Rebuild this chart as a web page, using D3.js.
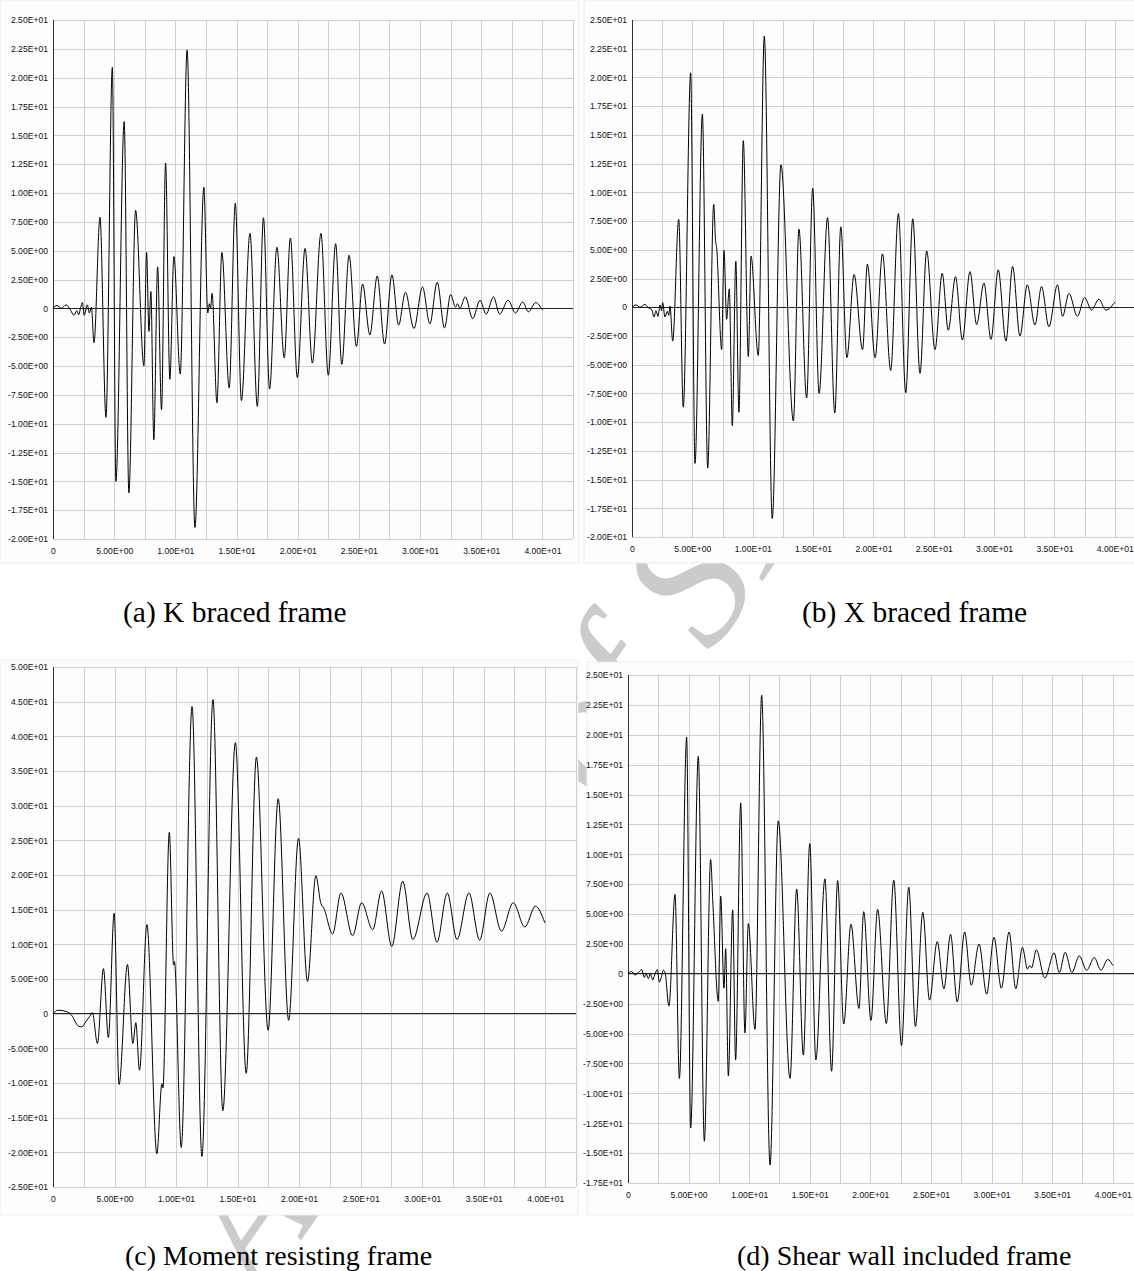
<!DOCTYPE html>
<html>
<head>
<meta charset="utf-8">
<script src="https://cdn.jsdelivr.net/npm/d3@7"></script>
<style>
  body { margin: 0; background: #fff; }
  svg { display: block; }
</style>
</head>
<body>
<svg id="fig" width="1134" height="1271"></svg>
<script>
// response histories as [time (s), value] at each turning point
const kBraced = [
  [0,0],[0.32,0.25],[0.68,0],[1.07,0.3],[1.4,-0.1],[1.72,-0.6],[1.94,-0.2],[2.1,-0.55],[2.26,0.05],[2.4,0.5],
  [2.55,-0.6],[2.8,0.3],[2.97,-0.4],[3.14,0.1],[3.35,-2.98],[3.84,7.9],[4.33,-9.45],[4.85,20.9],[5.14,-15.0],
  [5.82,16.2],[6.2,-16.0],[6.75,8.5],[7.43,-5.0],[7.65,4.85],[7.84,-2.0],[8.0,1.45],[8.24,-11.4],[8.55,3.6],
  [8.87,-8.8],[9.2,12.6],[9.55,-6.15],[9.88,4.5],[10.4,-5.7],[10.96,22.4],[11.6,-19.0],[12.33,10.5],[12.65,-0.4],
  [12.78,0.4],[12.88,0.0],[13.0,1.3],[13.4,-8.2],[13.8,4.85],[14.4,-6.9],[14.9,9.1],[15.4,-8.0],[16.1,6.5],
  [16.7,-8.5],[17.2,7.85],[17.7,-7.0],[18.3,5.3],[18.9,-4.3],[19.4,6.1],[19.97,-6.0],[20.6,5.2],[21.2,-4.75],
  [21.9,6.5],[22.5,-5.8],[23.1,5.6],[23.6,-4.85],[24.2,4.6],[24.8,-3.3],[25.3,2.1],[25.9,-2.3],[26.5,2.8],
  [27.1,-3.1],[27.7,2.9],[28.25,-1.45],[28.8,1.4],[29.5,-1.75],[30.2,1.85],[30.8,-1.35],[31.4,2.25],[32.0,-1.7],
  [32.5,1.2],[32.9,0.1],[33.06,0.4],[33.25,0.0],[33.7,1.0],[34.3,-0.9],[34.9,0.7],[35.4,-0.5],[36.0,1.0],
  [36.5,-0.5],[37.2,0.7],[37.8,-0.4],[38.4,0.55],[38.85,-0.3],[39.45,0.5],[40.0,-0.15]
];

const xBraced = [
  [0,0],[0.33,0.2],[0.66,0],[1.07,0.25],[1.35,-0.05],[1.63,-0.2],[1.82,-0.85],[1.99,-0.3],[2.15,-0.8],[2.32,0.2],
  [2.45,-0.3],[2.54,0.4],[2.73,-0.85],[2.93,-0.35],[3.05,-0.7],[3.15,0.1],[3.37,-2.95],[3.87,7.65],[4.25,-8.7],
  [4.86,20.4],[5.22,-13.6],[5.83,16.8],[6.27,-14.0],[6.77,8.95],[6.93,5.7],[7.0,5.3],[7.43,-3.7],[7.62,4.95],
  [7.84,-1.05],[8.06,1.6],[8.31,-10.3],[8.6,4.0],[8.86,-9.15],[9.22,14.5],[9.64,-4.3],[9.86,4.45],[10.46,-4.2],
  [10.96,23.6],[11.62,-18.4],[12.34,12.4],[13.37,-9.9],[13.83,6.8],[14.47,-7.9],[14.97,10.35],[15.5,-7.5],
  [16.2,7.8],[16.8,-9.2],[17.3,7.0],[17.8,-4.4],[18.4,2.85],[19.1,-3.7],[19.5,3.75],[20.14,-4.4],[20.75,4.65],
  [21.43,-5.5],[22.07,8.15],[22.68,-7.45],[23.26,7.7],[23.86,-5.75],[24.41,4.9],[25.1,-3.7],[25.7,2.95],
  [26.2,-2.0],[26.8,2.65],[27.37,-2.85],[28.0,3.1],[28.55,-1.5],[29.16,2.1],[29.74,-2.8],[30.34,3.25],
  [30.98,-2.95],[31.53,3.55],[32.14,-2.5],[32.75,1.95],[33.38,-1.55],[33.93,1.8],[34.54,-1.7],[35.25,1.95],
  [35.67,-0.8],[36.2,1.2],[36.9,-0.8],[37.5,0.85],[38.07,-0.25],[38.68,0.7],[39.25,-0.25],[40.0,0.45]
];

const momentFrame = [
  [0,0],[0.4,0.5],[1.1,0.3],[1.5,-0.2],[2.07,-1.8],[2.34,-1.9],[2.7,-1.05],[3.0,-0.35],[3.2,0.15],[3.61,-4.3],
  [4.1,6.5],[4.5,-3.45],[4.97,14.5],[5.37,-10.2],[6.05,7.1],[6.49,-4.3],[6.73,-1.3],[7.03,-8.15],[7.63,12.85],
  [8.44,-20.2],[8.85,-10.1],[8.93,-10.7],[9.45,26.15],[9.8,7.0],[9.87,7.5],[10.42,-19.3],[11.3,44.3],[12.1,-20.6],
  [13.0,45.3],[13.8,-14.0],[14.82,39.1],[15.7,-8.6],[16.53,37.0],[17.48,-2.4],[18.3,31.0],[19.15,-0.95],
  [19.95,25.3],[20.68,4.65],[21.36,19.9],[21.77,15.9],[22.0,15.25],[22.72,11.5],[23.4,17.4],[24.35,11.25],
  [25.08,16.0],[25.98,12.1],[26.7,17.7],[27.53,9.7],[28.42,19.1],[29.24,10.7],[30.4,17.4],[31.2,10.3],
  [32.04,17.4],[32.83,10.7],[33.8,17.4],[34.67,10.6],[35.5,17.4],[36.44,11.9],[37.4,16.0],[38.34,12.5],
  [39.2,15.5],[39.97,13.1]
];

const shearWall = [
  [0,0],[0.3,0.2],[0.58,-0.1],[0.85,0.1],[1.13,0.35],[1.35,-0.3],[1.5,0.0],[1.68,-0.4],[1.85,0],[2.04,-0.5],
  [2.2,-0.1],[2.42,0.35],[2.59,-0.7],[2.75,-0.3],[2.92,0.3],[3.05,0.15],[3.38,-2.7],[3.88,6.65],[4.24,-8.75],
  [4.84,19.8],[5.17,-12.9],[5.8,18.2],[6.3,-14.0],[6.82,9.55],[7.0,6.0],[7.45,-2.3],[7.65,6.5],[7.92,-1.2],
  [8.06,2.1],[8.28,-8.55],[8.64,5.35],[8.88,-7.2],[9.3,14.3],[9.65,-4.95],[9.93,4.2],[10.48,-4.65],[11.03,23.3],
  [11.72,-16.0],[12.4,12.8],[13.37,-8.75],[13.92,7.1],[14.47,-6.8],[15.0,10.9],[15.5,-7.2],[16.25,7.95],
  [16.8,-8.15],[17.3,7.8],[17.8,-4.2],[18.4,4.15],[19.06,-2.9],[19.45,5.2],[20.05,-3.9],[20.6,5.4],[21.32,-4.15],
  [21.93,7.85],[22.57,-6.0],[23.17,7.25],[23.72,-4.4],[24.33,5.15],[24.88,-2.2],[25.52,2.7],[26.07,-1.25],
  [26.62,3.3],[27.17,-2.35],[27.78,3.5],[28.33,-0.95],[28.97,2.5],[29.6,-1.7],[30.2,3.05],[30.81,-1.2],
  [31.45,3.5],[32.0,-1.25],[32.55,2.2],[32.97,0.4],[33.16,0.7],[33.3,0.5],[33.7,2.0],[34.4,-0.35],[35.17,1.75],
  [35.59,0.1],[36.08,1.8],[36.63,0.1],[37.24,1.5],[37.85,0.3],[38.48,1.35],[39.03,0.3],[39.59,1.2],[40.0,0.7]
];

const captions = ["(a) K braced frame", "(b) X braced frame", "(c) Moment resisting frame", "(d) Shear wall included frame"];
const xLabelTicks = [0, 5, 10, 15, 20, 25, 30, 35, 40];
const xGridTicks = d3.range(0, 42.51, 2.5);

// layout of the four panels (pixels)
const panels = [
  { data: kBraced, cap: 0, box: [0, 0, 579, 563], left: 53, right: 573, top: 20, bottom: 539, yMin: -20, yMax: 25, yStep: 2.5, capX: 123, capY: 622, capSize: 29.5 },
  { data: xBraced, cap: 1, box: [584, 0, 560, 563], left: 632, right: 1145, top: 20, bottom: 537, yMin: -20, yMax: 25, yStep: 2.5, capX: 802, capY: 622, capSize: 29.5 },
  { data: momentFrame, cap: 2, box: [0, 660, 578, 555], left: 53, right: 576, top: 667, bottom: 1187, yMin: -25, yMax: 50, yStep: 5, capX: 125, capY: 1265, capSize: 28 },
  { data: shearWall, cap: 3, box: [587, 662, 560, 553], left: 628, right: 1143, top: 675, bottom: 1183, yMin: -17.5, yMax: 25, yStep: 2.5, capX: 737, capY: 1265, capSize: 28 }
];

function sci(v) {
  if (Math.abs(v) < 1e-9) return "0";
  const [m, e] = v.toExponential(2).split("e");
  const n = +e;
  return m + "E" + (n < 0 ? "-" : "+") + String(Math.abs(n)).padStart(2, "0");
}

const svg = d3.select("#fig");

// faint watermark on the page, behind the chart images
svg.append("text")
  .attr("transform", "translate(262,1296) rotate(-55)")
  .text("Archive of SID")
  .style("font-family", "'Liberation Serif', 'Times New Roman', serif")
  .style("font-style", "italic")
  .style("font-size", "180px")
  .style("fill", "#cbcbcb");

panels.forEach(p => {
  const g = svg.append("g");

  g.append("rect")
    .attr("x", p.box[0]).attr("y", p.box[1])
    .attr("width", p.box[2]).attr("height", p.box[3])
    .attr("fill", "#fdfdfd")
    .attr("stroke", "#ededed");

  const x = d3.scaleLinear().domain([0, 42.5]).range([p.left, p.right]);
  const y = d3.scaleLinear().domain([p.yMin, p.yMax]).range([p.bottom, p.top]);
  const yTicks = d3.range(p.yMin, p.yMax + p.yStep / 2, p.yStep);

  // grid
  g.append("g")
    .attr("transform", `translate(${p.left},0)`)
    .call(d3.axisLeft(y).tickValues(yTicks).tickSize(-(p.right - p.left)).tickFormat(""))
    .call(a => a.select(".domain").remove())
    .call(a => a.selectAll("line").attr("stroke", "#cfcfcf").attr("shape-rendering", "crispEdges"));

  g.append("g")
    .attr("transform", `translate(0,${p.bottom})`)
    .call(d3.axisBottom(x).tickValues(xGridTicks).tickSize(-(p.bottom - p.top)).tickFormat(""))
    .call(a => a.select(".domain").remove())
    .call(a => a.selectAll("line").attr("stroke", "#cfcfcf").attr("shape-rendering", "crispEdges"));

  // tick labels
  g.append("g")
    .attr("transform", `translate(${p.left},0)`)
    .call(d3.axisLeft(y).tickValues(yTicks).tickSize(0).tickPadding(5).tickFormat(sci))
    .call(a => a.select(".domain").remove())
    .call(a => a.selectAll("text")
      .style("font-family", "'Liberation Sans', Arial, sans-serif")
      .style("font-size", "8.6px")
      .attr("fill", "#111"));

  g.append("g")
    .attr("transform", `translate(0,${p.bottom})`)
    .call(d3.axisBottom(x).tickValues(xLabelTicks).tickSize(0).tickPadding(9).tickFormat(sci))
    .call(a => a.select(".domain").remove())
    .call(a => a.selectAll("text")
      .style("font-family", "'Liberation Sans', Arial, sans-serif")
      .style("font-size", "8.6px")
      .attr("fill", "#111"));

  // y axis and zero line
  g.append("line")
    .attr("x1", p.left).attr("x2", p.left)
    .attr("y1", p.top).attr("y2", p.bottom)
    .attr("stroke", "#333").attr("shape-rendering", "crispEdges");

  g.append("line")
    .attr("x1", p.left).attr("x2", p.right)
    .attr("y1", y(0)).attr("y2", y(0))
    .attr("stroke", "#222").attr("shape-rendering", "crispEdges");

  const line = d3.line()
    .x(d => x(d[0]))
    .y(d => y(d[1]))
    .curve(d3.curveMonotoneX);

  g.append("path")
    .datum(p.data)
    .attr("d", line)
    .attr("fill", "none")
    .attr("stroke", "#000")
    .attr("stroke-width", 1);

  svg.append("text")
    .attr("x", p.capX)
    .attr("y", p.capY)
    .text(captions[p.cap])
    .style("font-family", "'Liberation Serif', 'Times New Roman', serif")
    .style("font-size", p.capSize + "px")
    .style("fill", "#000");
});
</script>
</body>
</html>
